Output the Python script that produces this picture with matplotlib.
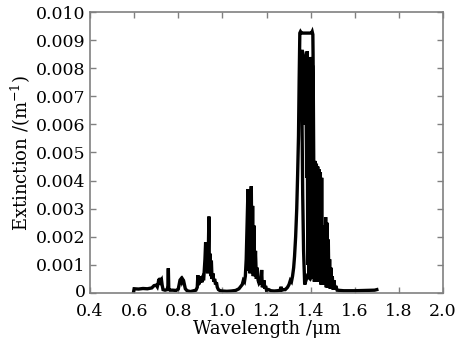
import numpy as np
import matplotlib.pyplot as plt
from matplotlib.transforms import ScaledTranslation

plt.rcParams['font.family'] = ['DejaVu Serif']
plt.rcParams['mathtext.fontset'] = 'dejavuserif'

# spectrum, band by band (wavelength in um, extinction in 1/m)
wl_vis = [0.597, 0.600, 0.620, 0.640, 0.660, 0.680, 0.690, 0.700, 0.705, 0.709,
          0.712, 0.715, 0.718, 0.721, 0.724, 0.727, 0.731, 0.740, 0.750, 0.753,
          0.755, 0.757, 0.762, 0.775, 0.790, 0.800, 0.804, 0.808, 0.812, 0.816,
          0.820, 0.824, 0.828, 0.832, 0.840, 0.855, 0.870, 0.880]
ext_vis = [0.00002, 0.00015, 0.00014, 0.00016, 0.00015, 0.00018, 0.00026, 0.00028, 0.00022, 0.00035,
           0.00050, 0.00030, 0.00054, 0.00042, 0.00046, 0.00028, 0.00012, 0.00010, 0.00012, 0.00025,
           0.00088, 0.00015, 0.00010, 0.00010, 0.00009, 0.00014, 0.00030, 0.00046, 0.00050, 0.00040,
           0.00049, 0.00044, 0.00030, 0.00015, 0.00008, 0.00005, 0.00008, 0.00010]

wl_094 = [0.886, 0.889, 0.892, 0.895, 0.899, 0.903, 0.907, 0.911, 0.915, 0.918,
          0.921, 0.924, 0.927, 0.930, 0.933, 0.936, 0.939, 0.941, 0.944, 0.947,
          0.950, 0.953, 0.957, 0.961, 0.965, 0.969, 0.973, 0.977, 0.982, 0.990,
          1.000, 1.020, 1.040, 1.060, 1.075, 1.085, 1.090, 1.095]
ext_094 = [0.00020, 0.00063, 0.00030, 0.00058, 0.00042, 0.00048, 0.00038, 0.00052, 0.00045, 0.00080,
           0.00120, 0.00180, 0.00110, 0.00175, 0.00070, 0.00140, 0.00272, 0.00080, 0.00140, 0.00060,
           0.00115, 0.00050, 0.00070, 0.00040, 0.00050, 0.00030, 0.00038, 0.00020, 0.00012, 0.00008,
           0.00007, 0.00006, 0.00007, 0.00009, 0.00015, 0.00025, 0.00030, 0.00045]

wl_113 = [1.100, 1.104, 1.108, 1.112, 1.116, 1.119, 1.122, 1.125, 1.128, 1.131,
          1.134, 1.137, 1.140, 1.143, 1.146, 1.150, 1.154, 1.158, 1.162, 1.166,
          1.170, 1.174, 1.178, 1.181, 1.185, 1.189, 1.192, 1.196, 1.200, 1.210,
          1.220, 1.235, 1.250, 1.262, 1.266, 1.270, 1.278]
ext_113 = [0.00040, 0.00060, 0.00120, 0.00250, 0.00370, 0.00080, 0.00300, 0.00070, 0.00280, 0.00380,
           0.00080, 0.00310, 0.00060, 0.00240, 0.00060, 0.00150, 0.00050, 0.00090, 0.00045, 0.00035,
           0.00040, 0.00030, 0.00082, 0.00020, 0.00030, 0.00045, 0.00015, 0.00025, 0.00010, 0.00012,
           0.00008, 0.00007, 0.00008, 0.00010, 0.00022, 0.00010, 0.00012]

# the 1.38 um band is not drawn in x order (flat top over a hollow inside)
wl_138 = [1.285, 1.295, 1.302, 1.308, 1.313, 1.318, 1.323, 1.327, 1.332, 1.337,
          1.341, 1.345, 1.348, 1.351, 1.354, 1.358, 1.404, 1.407, 1.410, 1.411,
          1.412, 1.414, 1.411, 1.408, 1.405, 1.402, 1.399, 1.396, 1.393, 1.390,
          1.387, 1.384, 1.382, 1.378, 1.374, 1.369, 1.363, 1.358, 1.361, 1.364,
          1.368, 1.373, 1.385, 1.398, 1.410, 1.414, 1.417, 1.420, 1.423, 1.426,
          1.429, 1.432, 1.435, 1.438, 1.441, 1.444, 1.447, 1.450, 1.453, 1.456,
          1.459, 1.462, 1.465, 1.468, 1.471, 1.474, 1.477, 1.480, 1.483, 1.486,
          1.489, 1.492, 1.495, 1.498, 1.502, 1.506, 1.510, 1.514, 1.520]
ext_138 = [0.00012, 0.00020, 0.00030, 0.00045, 0.00040, 0.00060, 0.00090, 0.00130, 0.00200, 0.00300,
           0.00420, 0.00560, 0.00760, 0.00925, 0.00930, 0.00925, 0.00925, 0.00930, 0.00920, 0.00850,
           0.00700, 0.00470, 0.00050, 0.00810, 0.00060, 0.00840, 0.00080, 0.00790, 0.00060, 0.00820,
           0.00100, 0.00860, 0.00410, 0.00800, 0.00600, 0.00840, 0.00860, 0.00860, 0.00600, 0.00350,
           0.00150, 0.00030, 0.00060, 0.00050, 0.00070, 0.00470, 0.00040, 0.00470, 0.00040, 0.00460,
           0.00040, 0.00450, 0.00040, 0.00440, 0.00040, 0.00430, 0.00030, 0.00410, 0.00030, 0.00200,
           0.00030, 0.00240, 0.00030, 0.00270, 0.00020, 0.00250, 0.00020, 0.00190, 0.00020, 0.00120,
           0.00015, 0.00090, 0.00015, 0.00060, 0.00012, 0.00045, 0.00012, 0.00025, 0.00010]

wl_tail = [1.550, 1.600, 1.650, 1.690, 1.700]
ext_tail = [0.00008, 0.00008, 0.00009, 0.00010, 0.00012]

xticks = [0.4, 0.6, 0.8, 1.0, 1.2, 1.4, 1.6, 1.8, 2.0]
xticklabels = ['0.4', '0.6', '0.8', '1.0', '1.2', '1.4', '1.6', '1.8', '2.0']
yticks = [0, 0.001, 0.002, 0.003, 0.004, 0.005, 0.006, 0.007, 0.008, 0.009, 0.010]
yticklabels = ['0', '0.001', '0.002', '0.003', '0.004', '0.005', '0.006', '0.007',
               '0.008', '0.009', '0.010']

wl = np.concatenate([wl_vis, wl_094, wl_113, wl_138, wl_tail])
ext = np.concatenate([ext_vis, ext_094, ext_113, ext_138, ext_tail])

fig = plt.figure(figsize=(4.72, 3.44), dpi=100)
ax = fig.add_axes([0.1907, 0.1483, 0.7479, 0.8168])
ax.plot(wl, ext, color='black', lw=2.4, solid_joinstyle='miter')

ax.set_xlim(0.4, 2.0)
ax.set_ylim(0, 0.010)
ax.set_xticks(xticks)
ax.set_xticklabels(xticklabels)
ax.set_yticks(yticks)
ax.set_yticklabels(yticklabels, va='center_baseline')

for s in ax.spines.values():
    s.set_color('#808080')
    s.set_linewidth(1.2)
ax.tick_params(direction='in', length=4, width=1, color='#808080',
               top=True, right=True, labelsize=12.5)
ax.tick_params(axis='x', pad=7)
ax.tick_params(axis='y', pad=3)

# nudge the "0" label up a little so it clears "0.4"
lab0 = ax.get_yticklabels()[0]
lab0.set_transform(lab0.get_transform() + ScaledTranslation(0, 2 / 72, fig.dpi_scale_trans))

ax.set_xlabel('Wavelength /μm', fontsize=13, labelpad=0)
ax.set_ylabel('Extinction /(m$^{-1}$)', fontsize=13, labelpad=2)

fig.savefig('out.png', dpi=100)
